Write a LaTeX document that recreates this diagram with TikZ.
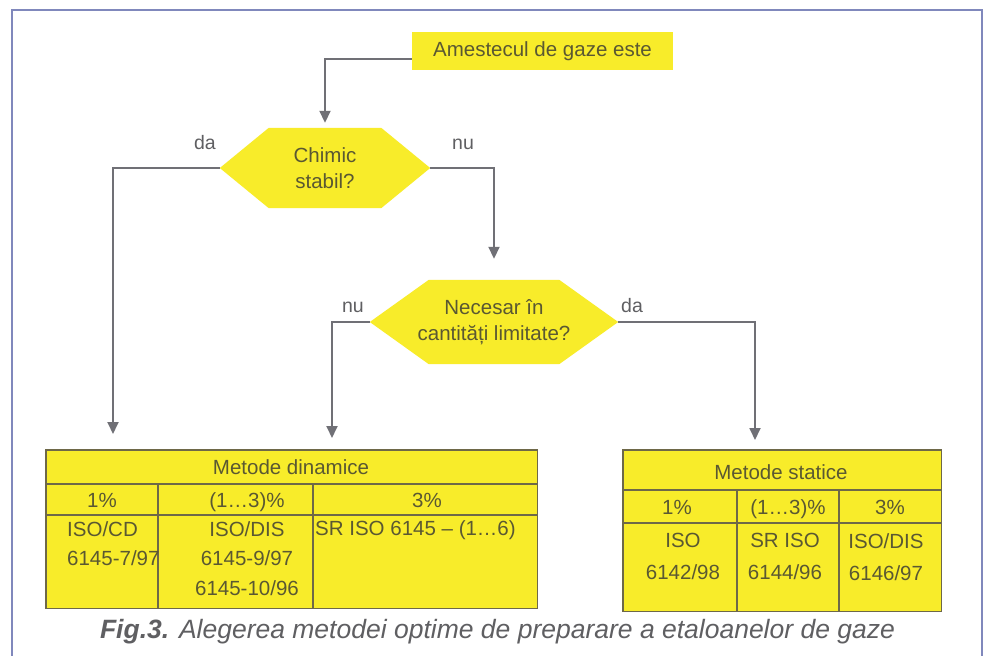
\documentclass[tikz,border=0pt]{standalone}
\usepackage{fontspec}
\setmainfont{Liberation Sans}
\usetikzlibrary{arrows.meta,backgrounds}
\definecolor{yel}{RGB}{248,236,42}
\definecolor{txtc}{RGB}{90,88,50}
\definecolor{labc}{RGB}{95,95,98}
\definecolor{connc}{RGB}{112,112,118}
\definecolor{gridc}{RGB}{110,104,72}
\definecolor{framec}{RGB}{128,136,188}
\newcommand{\myfs}{\fontsize{20.5}{29}\selectfont}
\tikzset{
  boxnode/.style={fill=yel,text=txtc,inner sep=0pt,font=\myfs},
  hexnode/.style={text=txtc,inner sep=0pt,align=center,font=\fontsize{20.5}{26}\selectfont},
  conn/.style={draw=connc,line width=1.8pt,-{Triangle[width=11pt,length=12pt]}},
  lbl/.style={text=labc,inner sep=0pt,font=\fontsize{19.5}{22}\selectfont,text height=14pt,text depth=0pt},
  cell/.style={text=txtc,inner sep=0pt,font=\myfs,text height=14.7pt,text depth=0pt},
  mcell/.style={text=txtc,inner sep=0pt,align=center,anchor=north},
  gridl/.style={draw=gridc,line width=1.8pt},
  tablebox/.style={fill=yel,inner sep=0pt,anchor=north west}
}
\begin{document}
\begin{tikzpicture}[x=1pt,y=-1pt]
\useasboundingbox (0,0) rectangle (989,656);
\begin{scope}
  \clip (0,0) rectangle (989,656);
  \draw[framec,line width=2.5pt] (12,690) -- (12,10) -- (982,10) -- (982,690);
\end{scope}

% flow nodes
\node[boxnode,minimum width=261pt,minimum height=38pt] (top) at (542.5,51) {Amestecul de gaze este};
\node[hexnode,minimum width=210pt,minimum height=80pt] (hex1) at (325,168) {Chimic\\stabil?};
\node[hexnode,minimum width=248pt,minimum height=84pt] (hex2) at (494,322) {Necesar în\\cantități limitate?};

\begin{scope}[on background layer]
  \fill[white] (0,0) rectangle (989,656);
  \fill[yel] (hex1.west) -- ([xshift=49pt]hex1.north west) -- ([xshift=-49pt]hex1.north east)
     -- (hex1.east) -- ([xshift=-49pt]hex1.south east) -- ([xshift=49pt]hex1.south west) -- cycle;
  \fill[yel] (hex2.west) -- ([xshift=59pt]hex2.north west) -- ([xshift=-59pt]hex2.north east)
     -- (hex2.east) -- ([xshift=-59pt]hex2.south east) -- ([xshift=59pt]hex2.south west) -- cycle;
\end{scope}

% tables
\node[tablebox,minimum width=491pt,minimum height=158pt] (dyn) at (46,450) {};
\node[tablebox,minimum width=318pt,minimum height=161pt] (stat) at (623,450) {};
\draw[gridl] (dyn.north west) rectangle (dyn.south east);
\draw[gridl] (46,484) -- (537,484) (46,515) -- (537,515) (158,484) -- (158,608) (313,484) -- (313,608);
\draw[gridl] (stat.north west) rectangle (stat.south east);
\draw[gridl] (623,490) -- (941,490) (623,523) -- (941,523) (737,490) -- (737,611) (839,490) -- (839,611);

% connectors
\draw[conn] ([yshift=-8pt]top.west) -| ([yshift=5pt]hex1.north);
\draw[conn] (hex1.west) -| ([xshift=67pt,yshift=16pt]dyn.north west);
\draw[conn] (hex1.east) -| ([yshift=21pt]hex2.north);
\draw[conn] (hex2.west) -| ([xshift=286pt,yshift=12pt]dyn.north west);
\draw[conn] (hex2.east) -| ([xshift=132pt,yshift=10pt]stat.north west);

% labels
\node[lbl] (l1) at (205,142) {da};
\node[lbl] (l2) at (463,142) {nu};
\node[lbl] (l3) at (353,305) {nu};
\node[lbl] (l4) at (632,305) {da};

% dynamic table text
\node[cell] (d0) at (291,467) {Metode dinamice};
\node[cell] (d1) at (102,500) {1\%};
\node[cell] (d2) at (247,500) {(1…3)\%};
\node[cell] (d3) at (427,500) {3\%};
\node[mcell,align=left,anchor=north west,font=\fontsize{20.5}{29.5}\selectfont] (d4) at (67,521) {ISO/CD\\6145-7/97};
\node[mcell,font=\fontsize{20.5}{29.5}\selectfont] (d5) at (247,521) {ISO/DIS\\6145-9/97\\6145-10/96};
\node[cell,anchor=west] (d6) at (315,528) {SR ISO 6145 – (1…6)};

% static table text
\node[cell] (s0) at (781,472) {Metode statice};
\node[cell] (s1) at (677,507) {1\%};
\node[cell] (s2) at (788,507) {(1…3)\%};
\node[cell] (s3) at (890,507) {3\%};
\node[mcell,font=\fontsize{20.5}{32}\selectfont] (s4) at (683,533) {ISO\\6142/98};
\node[mcell,font=\fontsize{20.5}{32}\selectfont] (s5) at (785,533) {SR ISO\\6144/96};
\node[mcell,font=\fontsize{20.5}{32}\selectfont] (s6) at (886,533) {ISO/DIS\\6146/97};

% caption
\node[text=labc,inner sep=0pt,font=\fontsize{26.5}{30}\selectfont] (cap) at (497.5,632)
  {\textbf{\textit{Fig.3.}} \textit{Alegerea metodei optime de preparare a etaloanelor de gaze}};
\end{tikzpicture}
\end{document}
